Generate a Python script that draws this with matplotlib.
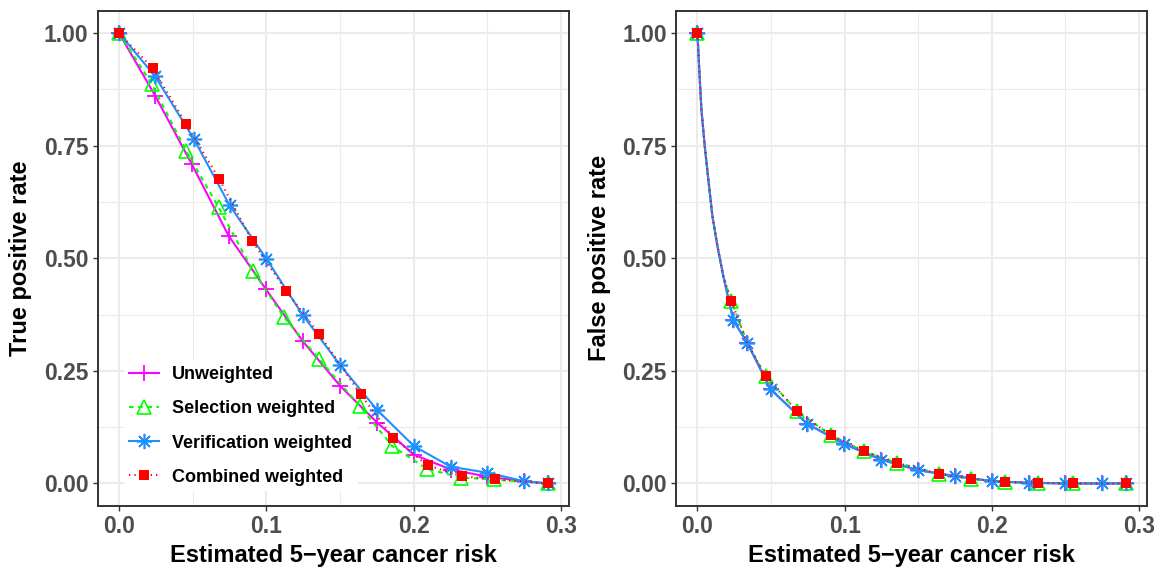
import numpy as np
import matplotlib.pyplot as plt
from matplotlib.ticker import MultipleLocator

# ---------------- Data ----------------
series_names = ["Unweighted", "Selection weighted", "Verification weighted", "Combined weighted"]

# True positive rate vs estimated risk threshold
tpr_unw_x = [0.0, 0.0245, 0.0494, 0.0744, 0.0998, 0.1247, 0.1503, 0.1753, 0.2002, 0.2252, 0.2501, 0.2750, 0.291]
tpr_unw_y = [1.0, 0.861, 0.709, 0.550, 0.431, 0.316, 0.216, 0.135, 0.064, 0.031, 0.015, 0.005, 0.0]
tpr_sel_x = [0.0, 0.0222, 0.0456, 0.0676, 0.0910, 0.1118, 0.1356, 0.1635, 0.1855, 0.2088, 0.2320, 0.2546, 0.291]
tpr_sel_y = [1.0, 0.887, 0.738, 0.613, 0.472, 0.370, 0.277, 0.172, 0.083, 0.033, 0.013, 0.009, 0.0]
tpr_ver_x = [0.0, 0.0245, 0.0506, 0.0750, 0.1000, 0.1247, 0.1503, 0.1753, 0.2002, 0.2252, 0.2501, 0.2750, 0.291]
tpr_ver_y = [1.0, 0.904, 0.766, 0.618, 0.499, 0.374, 0.262, 0.163, 0.083, 0.037, 0.024, 0.005, 0.0]
tpr_com_x = [0.0, 0.0229, 0.0456, 0.0680, 0.0905, 0.1136, 0.1360, 0.1640, 0.1860, 0.2095, 0.2330, 0.2550, 0.291]
tpr_com_y = [1.0, 0.922, 0.798, 0.676, 0.538, 0.427, 0.331, 0.198, 0.102, 0.040, 0.016, 0.009, 0.0]
tpr_marks = list(range(13))

# False positive rate vs estimated risk threshold
fpr_unw_x = [0.0, 0.001, 0.0027, 0.005, 0.0079, 0.0102, 0.0136, 0.0176, 0.0244, 0.0339, 0.0497,
             0.0746, 0.0994, 0.1247, 0.1498, 0.175, 0.2004, 0.2253, 0.250, 0.2746, 0.291]
fpr_unw_y = [1.0, 0.934, 0.830, 0.748, 0.660, 0.593, 0.527, 0.460, 0.362, 0.312, 0.209,
             0.1325, 0.088, 0.053, 0.0296, 0.0163, 0.005, 0.0015, 0.0, 0.0, 0.0]
fpr_sel_x = [0.0, 0.001, 0.0027, 0.005, 0.0079, 0.0102, 0.0136, 0.0176, 0.023, 0.0339, 0.0463,
             0.0678, 0.0908, 0.113, 0.1356, 0.164, 0.1858, 0.209, 0.2316, 0.255, 0.291]
fpr_sel_y = [1.0, 0.934, 0.830, 0.748, 0.660, 0.593, 0.527, 0.460, 0.405, 0.312, 0.238,
             0.160, 0.107, 0.0717, 0.0459, 0.0215, 0.0104, 0.003, 0.0015, 0.0, 0.0]
fpr_ver_x = fpr_unw_x
fpr_ver_y = fpr_unw_y
fpr_com_x = fpr_sel_x
fpr_com_y = fpr_sel_y
fpr_marks = [0] + list(range(8, 21))
fpr_marks_sel = [0, 8] + list(range(10, 21))

# ---------------- Style ----------------
plt.rcParams['font.family'] = ['Liberation Sans', 'DejaVu Sans']
plt.rcParams['font.weight'] = 'bold'

styles = [
    dict(color='#FF00FF', ls='-', marker='+', ms=11, mew=1.3),
    dict(color='#00FF00', ls=(0, (2.2, 2.2)), marker='^', ms=9.5, mew=1.2, mfc='none'),
    dict(color='#1E90FF', ls='-', marker=(8, 2, 0), ms=11, mew=1.2),
    dict(color='#FF0000', ls=(0, (0.6, 2.0)), marker='s', ms=7.6, mew=0),
]

fig = plt.figure(figsize=(11.67, 5.68), dpi=100)
ax1 = fig.add_axes([0.0837, 0.1092, 0.4039, 0.872])
ax2 = fig.add_axes([0.5793, 0.1092, 0.4036, 0.872])

tpr_data = [(tpr_unw_x, tpr_unw_y), (tpr_sel_x, tpr_sel_y), (tpr_ver_x, tpr_ver_y), (tpr_com_x, tpr_com_y)]
fpr_data = [(fpr_unw_x, fpr_unw_y), (fpr_sel_x, fpr_sel_y), (fpr_ver_x, fpr_ver_y), (fpr_com_x, fpr_com_y)]
fpr_mark_sets = [fpr_marks, fpr_marks_sel, fpr_marks, fpr_marks_sel]

for (x, y), st, name in zip(tpr_data, styles, series_names):
    ax1.plot(x, y, lw=1.5, markevery=tpr_marks, label=name, zorder=3, **st)

for (x, y), st, mk in zip(fpr_data, styles, fpr_mark_sets):
    ax2.plot(x, y, lw=1.5, markevery=mk, zorder=3, **st)

for ax, ylab in [(ax1, "True positive rate"), (ax2, "False positive rate")]:
    ax.set_xlim(-0.01455, 0.30555)
    ax.set_ylim(-0.05, 1.05)
    ax.xaxis.set_major_locator(MultipleLocator(0.1))
    ax.xaxis.set_minor_locator(MultipleLocator(0.05))
    ax.yaxis.set_major_locator(MultipleLocator(0.25))
    ax.yaxis.set_minor_locator(MultipleLocator(0.125))
    ax.xaxis.set_major_formatter(plt.FuncFormatter(lambda v, p: f"{v:.1f}"))
    ax.yaxis.set_major_formatter(plt.FuncFormatter(lambda v, p: f"{v:.2f}"))
    ax.grid(which='major', color='#EBEBEB', lw=1.5)
    ax.grid(which='minor', color='#EBEBEB', lw=0.8)
    ax.set_axisbelow(True)
    ax.tick_params(which='major', length=3.6, width=1.0, color='#333333',
                   labelcolor='#4D4D4D', labelsize=16.5, pad=3)
    ax.tick_params(which='minor', length=0)
    for sp in ax.spines.values():
        sp.set_color('#333333')
        sp.set_linewidth(1.4)
    ax.set_xlabel("Estimated 5\u2212year cancer risk", fontsize=17, fontweight='bold')
    ax.set_ylabel(ylab, fontsize=17, fontweight='bold')
    ax.xaxis.set_label_coords(0.5, -0.099)
    ax.xaxis.label.set_va('center')
    ax.yaxis.set_label_coords(-0.163, 0.5)
    ax.yaxis.label.set_va('center')

leg = ax1.legend(loc='lower left', bbox_to_anchor=(0.055, 0.03), frameon=True,
                 facecolor='white', edgecolor='none', framealpha=1, fancybox=False,
                 fontsize=13, handlelength=1.65, handletextpad=0.75,
                 labelspacing=0.95, borderpad=0.3, borderaxespad=0)
leg.set_zorder(2)
for t in leg.get_texts():
    t.set_fontweight('bold')

fig.savefig("out.png", dpi=100, facecolor='white')
